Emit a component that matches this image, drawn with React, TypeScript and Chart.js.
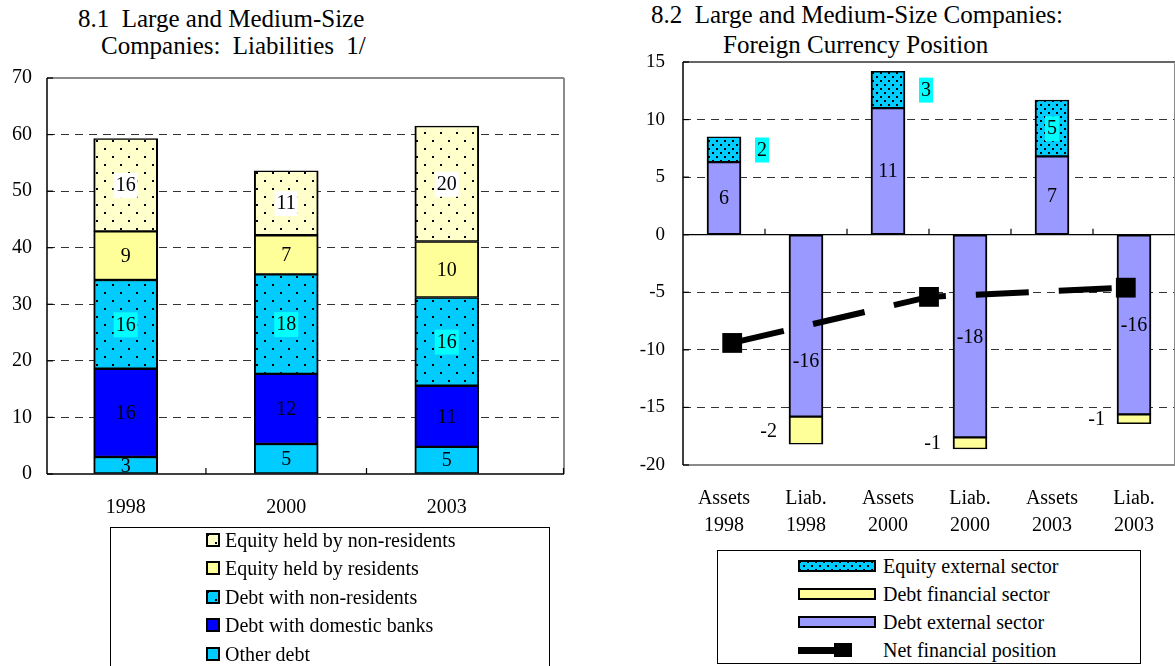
import React, { useEffect, useRef } from 'react';
import { Chart, registerables } from 'chart.js';

Chart.register(...registerables);

const SERIF = "'Liberation Serif', 'Times New Roman', Times, serif";

// ---- 8.1 Liabilities (stacked by year) ----
const liabilityYears = ['1998', '2000', '2003'];
const otherDebt = [3.0, 5.3, 4.8];
const domesticBankDebt = [15.6, 12.4, 10.8];
const nonResidentDebt = [15.7, 17.6, 15.6];
const residentEquity = [8.6, 6.9, 9.9];
const nonResidentEquity = [16.4, 11.4, 20.4];
const liabilityTicks = { min: 0, max: 70, step: 10 };

// ---- 8.2 Foreign currency position ----
const positionCategories = [
  ['Assets', '1998'], ['Liab.', '1998'],
  ['Assets', '2000'], ['Liab.', '2000'],
  ['Assets', '2003'], ['Liab.', '2003'],
];
const debtExternal = [6.3, -15.8, 11.0, -17.6, 6.8, -15.6];
const debtFinancial = [null, -2.4, null, -1.0, null, -0.8];
const equityExternal = [2.2, null, 3.2, null, 4.9, null];
const netPosition = [-9.4, -5.4, -4.6];
const netPositionSlots = [0.1, 2.5, 4.9];
const positionTicks = { min: -20, max: 15, step: 5 };

// series names, shared by datasets and legends
const N_OTHER = 'Other debt';
const N_DOMESTIC = 'Debt with domestic banks';
const N_NONRES_DEBT = 'Debt with non-residents';
const N_RES_EQUITY = 'Equity held by residents';
const N_NONRES_EQUITY = 'Equity held by non-residents';
const N_EQ_EXT = 'Equity external sector';
const N_DEBT_FIN = 'Debt financial sector';
const N_DEBT_EXT = 'Debt external sector';
const N_NET = 'Net financial position';

const PALE_YELLOW = '#FFFFCC';
const YELLOW = '#FFFF99';
const SKY = '#00CCFF';
const BLUE = '#0000FF';
const CYAN = '#00FFFF';
const LAVENDER = '#9999FF';
const GRID = '#333333';

function dotPattern(ctx: CanvasRenderingContext2D, bg: string, tile: number, dot: number) {
  const c = document.createElement('canvas');
  c.width = tile;
  c.height = tile;
  const g = c.getContext('2d')!;
  g.fillStyle = bg;
  g.fillRect(0, 0, tile, tile);
  g.fillStyle = '#000';
  g.fillRect(0, 0, dot, dot);
  g.fillRect(tile / 2, tile / 2, dot, dot);
  return ctx.createPattern(c, 'repeat')!;
}

type FrameConf = {
  top: [string, number];
  right: [string, number];
  bottom: [string, number];
  left: [string, number];
  zeroLine?: boolean;
  tickValues: number[];
  endTick?: boolean;
};

// plot-area border, optional zero line and short inward tick marks
function plotFrame(conf: FrameConf) {
  return {
    id: 'plotFrame',
    beforeDatasetsDraw(chart: any) {
      const { ctx, chartArea: a } = chart;
      const seg = (x1: number, y1: number, x2: number, y2: number, color: string, w: number) => {
        ctx.strokeStyle = color;
        ctx.lineWidth = w;
        ctx.beginPath();
        ctx.moveTo(x1, y1);
        ctx.lineTo(x2, y2);
        ctx.stroke();
      };
      ctx.save();
      ctx.setLineDash([]);
      seg(a.left, a.top, a.right, a.top, conf.top[0], conf.top[1]);
      seg(a.right, a.top, a.right, a.bottom, conf.right[0], conf.right[1]);
      seg(a.left, a.bottom, a.right, a.bottom, conf.bottom[0], conf.bottom[1]);
      seg(a.left, a.top, a.left, a.bottom, conf.left[0], conf.left[1]);
      // value-axis ticks pointing into the plot
      for (const t of chart.scales.y.ticks) {
        const y = chart.scales.y.getPixelForValue(t.value);
        seg(a.left, y, a.left + 6, y, '#000', 1.2);
      }
      let axisY = a.bottom;
      if (conf.zeroLine) {
        axisY = chart.scales.y.getPixelForValue(0);
        seg(a.left, axisY, a.right, axisY, '#000', 1.2);
      }
      for (const v of conf.tickValues) {
        const x = chart.scales.x.getPixelForValue(v);
        seg(x, axisY, x, axisY - 6, '#000', 1.2);
      }
      if (conf.endTick) seg(a.right - 0.5, axisY, a.right - 0.5, axisY - 6, '#000', 1.2);
      ctx.restore();
    },
  };
}

// value labels drawn from each bar's own value
function barValueLabels(fontSize: number) {
  return {
    id: 'barValueLabels',
    afterDatasetsDraw(chart: any) {
      const { ctx } = chart;
      ctx.save();
      ctx.font = `${fontSize}px ${SERIF}`;
      ctx.textBaseline = 'middle';
      ctx.textAlign = 'center';
      chart.data.datasets.forEach((ds: any, di: number) => {
        const conf = ds.valueLabel;
        if (!conf) return;
        const meta = chart.getDatasetMeta(di);
        meta.data.forEach((bar: any, i: number) => {
          const raw = ds.data[i];
          const v = raw !== null && typeof raw === 'object' ? raw.y : raw;
          if (v === null || v === undefined) return;
          const { x, y, base, width } = bar.getProps(['x', 'y', 'base', 'width'], true);
          const text = String(Math.round(v));
          const tw = ctx.measureText(text).width;
          let cx = x;
          let cy = (y + base) / 2;
          const h = Math.abs(base - y);
          if (conf.place === 'left') cx = x - width / 2 - 12 - tw / 2;
          else if (conf.place === 'rightIfSmall' && h < 45) cx = x + width / 2 + 16 + tw / 2;
          if (conf.nudge) cy += conf.nudge[i] || 0;
          if (conf.bg) {
            ctx.fillStyle = conf.bg;
            ctx.fillRect(cx - tw / 2 - 2, cy - 12, tw + 4, 25);
          }
          ctx.fillStyle = '#000';
          ctx.fillText(text, cx, cy + 1);
        });
      });
      ctx.restore();
    },
  };
}

// fixed axis sizes so the plot area lands where the layout wants it
const fixWidth = (w: number) => (s: any) => {
  s.width = w;
  s.paddingTop = 0;
  s.paddingBottom = 0;
};
const fixHeight = (h: number) => (s: any) => {
  s.height = h;
  s.paddingLeft = 0;
  s.paddingRight = 0;
};

function buildLiabilities(canvas: HTMLCanvasElement) {
  const ctx = canvas.getContext('2d')!;
  const dotsPale = dotPattern(ctx, PALE_YELLOW, 16, 2);
  const dotsSky = dotPattern(ctx, SKY, 16, 2);
  const pts = (arr: number[]) => arr.map((y, i) => ({ x: i, y }));
  return new Chart(canvas, {
    type: 'bar',
    data: {
      datasets: [
        { label: N_OTHER, data: pts(otherDebt), backgroundColor: SKY, valueLabel: { place: 'center' } },
        { label: N_DOMESTIC, data: pts(domesticBankDebt), backgroundColor: BLUE, valueLabel: { place: 'center' } },
        { label: N_NONRES_DEBT, data: pts(nonResidentDebt), backgroundColor: dotsSky, valueLabel: { place: 'center', bg: CYAN } },
        { label: N_RES_EQUITY, data: pts(residentEquity), backgroundColor: YELLOW, valueLabel: { place: 'center' } },
        { label: N_NONRES_EQUITY, data: pts(nonResidentEquity), backgroundColor: dotsPale, valueLabel: { place: 'center', bg: '#FFFFFF' } },
      ] as any,
    },
    options: {
      responsive: false,
      animation: false,
      devicePixelRatio: 1,
      layout: { autoPadding: false, padding: { top: 18, right: 16, left: 0, bottom: 0 } },
      plugins: { legend: { display: false }, tooltip: { enabled: false } },
      datasets: {
        bar: {
          grouped: false,
          barThickness: 64,
          maxBarThickness: 64,
          borderColor: '#000',
          borderWidth: { top: 1.5, bottom: 1.5, left: 2, right: 2 },
          borderSkipped: false,
        },
      },
      scales: {
        x: {
          type: 'linear',
          stacked: true,
          offset: false,
          min: -0.49,
          max: 2.73,
          grid: { display: false },
          border: { display: false },
          afterBuildTicks: (s: any) => {
            s.ticks = liabilityYears.map((_, i) => ({ value: i }));
          },
          afterFit: fixHeight(61),
          ticks: {
            callback: (v: any) => liabilityYears[v] ?? '',
            padding: 14,
            maxRotation: 0,
            color: '#000',
            font: { family: SERIF, size: 20 },
          },
        },
        y: {
          stacked: true,
          min: liabilityTicks.min,
          max: liabilityTicks.max,
          afterFit: fixWidth(47),
          ticks: {
            stepSize: liabilityTicks.step,
            padding: 15,
            color: '#000',
            font: { family: SERIF, size: 20 },
          },
          grid: {
            drawTicks: false,
            lineWidth: 1,
            color: (c: any) =>
              c.tick && (c.tick.value === liabilityTicks.min || c.tick.value === liabilityTicks.max)
                ? 'rgba(0,0,0,0)'
                : GRID,
          },
          border: { display: false, dash: [8, 6] },
        },
      },
    } as any,
    plugins: [
      plotFrame({
        top: ['#8a8a8a', 2],
        right: ['#8a8a8a', 2],
        bottom: ['#000', 1.5],
        left: ['#000', 1.5],
        tickValues: [0.5, 1.5],
        endTick: true,
      }),
      barValueLabels(20),
    ],
  });
}

function buildPosition(canvas: HTMLCanvasElement) {
  const ctx = canvas.getContext('2d')!;
  const dotsSmall = dotPattern(ctx, SKY, 8, 2);
  return new Chart(canvas, {
    type: 'bar',
    data: {
      labels: positionCategories,
      datasets: [
        {
          type: 'line',
          label: N_NET,
          xAxisID: 'xNet',
          order: 0,
          data: netPositionSlots.map((x, i) => ({ x, y: netPosition[i] })),
          borderColor: '#000',
          backgroundColor: '#000',
          borderWidth: 6,
          borderDash: [53, 30],
          borderCapStyle: 'butt',
          tension: 0,
          fill: false,
          pointStyle: 'rect',
          pointRadius: 14,
          pointBackgroundColor: '#000',
          pointBorderColor: '#000',
          pointBorderWidth: 0,
        },
        { label: N_DEBT_EXT, order: 1, data: debtExternal, backgroundColor: LAVENDER, valueLabel: { place: 'center', nudge: [0, 35, 0, 0, 0, 0] } },
        { label: N_DEBT_FIN, order: 1, data: debtFinancial, backgroundColor: YELLOW, valueLabel: { place: 'left' } },
        { label: N_EQ_EXT, order: 1, data: equityExternal, backgroundColor: dotsSmall, valueLabel: { place: 'rightIfSmall', bg: CYAN } },
      ] as any,
    },
    options: {
      responsive: false,
      animation: false,
      devicePixelRatio: 1,
      layout: { autoPadding: false, padding: { top: 22, right: 1, left: 0, bottom: 0 } },
      plugins: { legend: { display: false }, tooltip: { enabled: false } },
      datasets: {
        bar: {
          grouped: false,
          barThickness: 34,
          maxBarThickness: 34,
          borderColor: '#000',
          borderWidth: { top: 1.5, bottom: 1.5, left: 2, right: 2 },
          borderSkipped: false,
        },
      },
      scales: {
        x: {
          type: 'category',
          stacked: true,
          grid: { display: false },
          border: { display: false },
          afterFit: fixHeight(75),
          ticks: {
            padding: 12,
            maxRotation: 0,
            autoSkip: false,
            color: '#000',
            font: { family: SERIF, size: 20, lineHeight: 1.35 },
          },
        },
        xNet: { type: 'linear', display: false, offset: false, min: -0.5, max: 5.5 },
        y: {
          stacked: true,
          min: positionTicks.min,
          max: positionTicks.max,
          afterFit: fixWidth(83),
          ticks: {
            stepSize: positionTicks.step,
            padding: 18,
            color: '#000',
            font: { family: SERIF, size: 19 },
            callback: (v: any) => String(v),
          },
          grid: {
            drawTicks: false,
            lineWidth: 1,
            color: (c: any) =>
              c.tick && (c.tick.value === positionTicks.min || c.tick.value === positionTicks.max || c.tick.value === 0)
                ? 'rgba(0,0,0,0)'
                : GRID,
          },
          border: { display: false, dash: [8, 6] },
        },
      },
    } as any,
    plugins: [
      plotFrame({
        top: ['#333', 1.5],
        right: ['#8a8a8a', 2],
        bottom: ['#8a8a8a', 2],
        left: ['#000', 1.5],
        zeroLine: true,
        tickValues: [0.5, 1.5, 2.5, 3.5, 4.5],
      }),
      barValueLabels(20),
    ],
  });
}

const dotsCss = (bg: string, tile: number): React.CSSProperties => ({
  backgroundColor: bg,
  backgroundImage:
    'radial-gradient(circle, #000 0.8px, rgba(0,0,0,0) 1.3px), radial-gradient(circle, #000 0.8px, rgba(0,0,0,0) 1.3px)',
  backgroundSize: `${tile}px ${tile}px`,
  backgroundPosition: `0 0, ${tile / 2}px ${tile / 2}px`,
});

const leftLegend: { name: string; swatch: React.CSSProperties }[] = [
  { name: N_NONRES_EQUITY, swatch: dotsCss(PALE_YELLOW, 16) },
  { name: N_RES_EQUITY, swatch: { background: YELLOW } },
  { name: N_NONRES_DEBT, swatch: dotsCss(SKY, 16) },
  { name: N_DOMESTIC, swatch: { background: BLUE } },
  { name: N_OTHER, swatch: { background: SKY } },
];

const rightLegend: { name: string; swatch: React.CSSProperties | null }[] = [
  { name: N_EQ_EXT, swatch: dotsCss(SKY, 8) },
  { name: N_DEBT_FIN, swatch: { background: YELLOW } },
  { name: N_DEBT_EXT, swatch: { background: LAVENDER } },
  { name: N_NET, swatch: null },
];

const abs = (left: number, top: number, extra: React.CSSProperties = {}): React.CSSProperties => ({
  position: 'absolute',
  left,
  top,
  ...extra,
});

export default function App() {
  const leftRef = useRef<HTMLCanvasElement>(null);
  const rightRef = useRef<HTMLCanvasElement>(null);

  useEffect(() => {
    const charts = [buildLiabilities(leftRef.current!), buildPosition(rightRef.current!)];
    return () => charts.forEach((c) => c.destroy());
  }, []);

  const titleStyle: React.CSSProperties = { fontSize: 25, lineHeight: '25px', whiteSpace: 'pre', color: '#000' };
  const rowText: React.CSSProperties = { fontSize: 20, lineHeight: '28px', whiteSpace: 'pre', color: '#000' };

  return (
    <div
      style={{
        position: 'absolute',
        left: 0,
        top: 0,
        width: 1175,
        height: 666,
        overflow: 'hidden',
        background: '#fff',
        fontFamily: SERIF,
      }}
    >
      <div style={abs(78, 6, titleStyle)}>8.1  Large and Medium-Size</div>
      <div style={abs(101, 33, { ...titleStyle, wordSpacing: 6 })}>Companies: Liabilities 1/</div>
      <div style={abs(651, 2, titleStyle)}>8.2  Large and Medium-Size Companies:</div>
      <div style={abs(723, 32, titleStyle)}>Foreign Currency Position</div>

      <canvas ref={leftRef} width={580} height={475} style={abs(0, 60, { display: 'block' })} />
      <canvas ref={rightRef} width={576} height={500} style={abs(600, 40, { display: 'block' })} />

      <div
        style={abs(110, 527, {
          width: 440,
          height: 160,
          border: '1px solid #000',
          boxSizing: 'border-box',
          background: '#fff',
        })}
      />
      {leftLegend.map((item, i) => {
        const cy = 539.5 + i * 28.5;
        return (
          <React.Fragment key={item.name}>
            <div
              style={abs(206, cy - 7, {
                width: 14,
                height: 14,
                border: '2px solid #000',
                boxSizing: 'border-box',
                ...item.swatch,
              })}
            />
            <div style={abs(225, cy - 14, rowText)}>{item.name}</div>
          </React.Fragment>
        );
      })}

      <div
        style={abs(717, 550, {
          width: 424,
          height: 114,
          border: '1px solid #000',
          boxSizing: 'border-box',
          background: '#fff',
        })}
      />
      {rightLegend.map((item, i) => {
        const cy = 566 + i * 28;
        return (
          <React.Fragment key={item.name}>
            {item.swatch ? (
              <div
                style={abs(798, cy - 6, {
                  width: 78,
                  height: 12,
                  border: '2px solid #000',
                  boxSizing: 'border-box',
                  ...item.swatch,
                })}
              />
            ) : (
              <>
                <div style={abs(798, cy - 3, { width: 52, height: 7, background: '#000' })} />
                <div style={abs(834, cy - 7, { width: 18, height: 14, background: '#000' })} />
              </>
            )}
            <div style={abs(883, cy - 14, rowText)}>{item.name}</div>
          </React.Fragment>
        );
      })}
    </div>
  );
}
